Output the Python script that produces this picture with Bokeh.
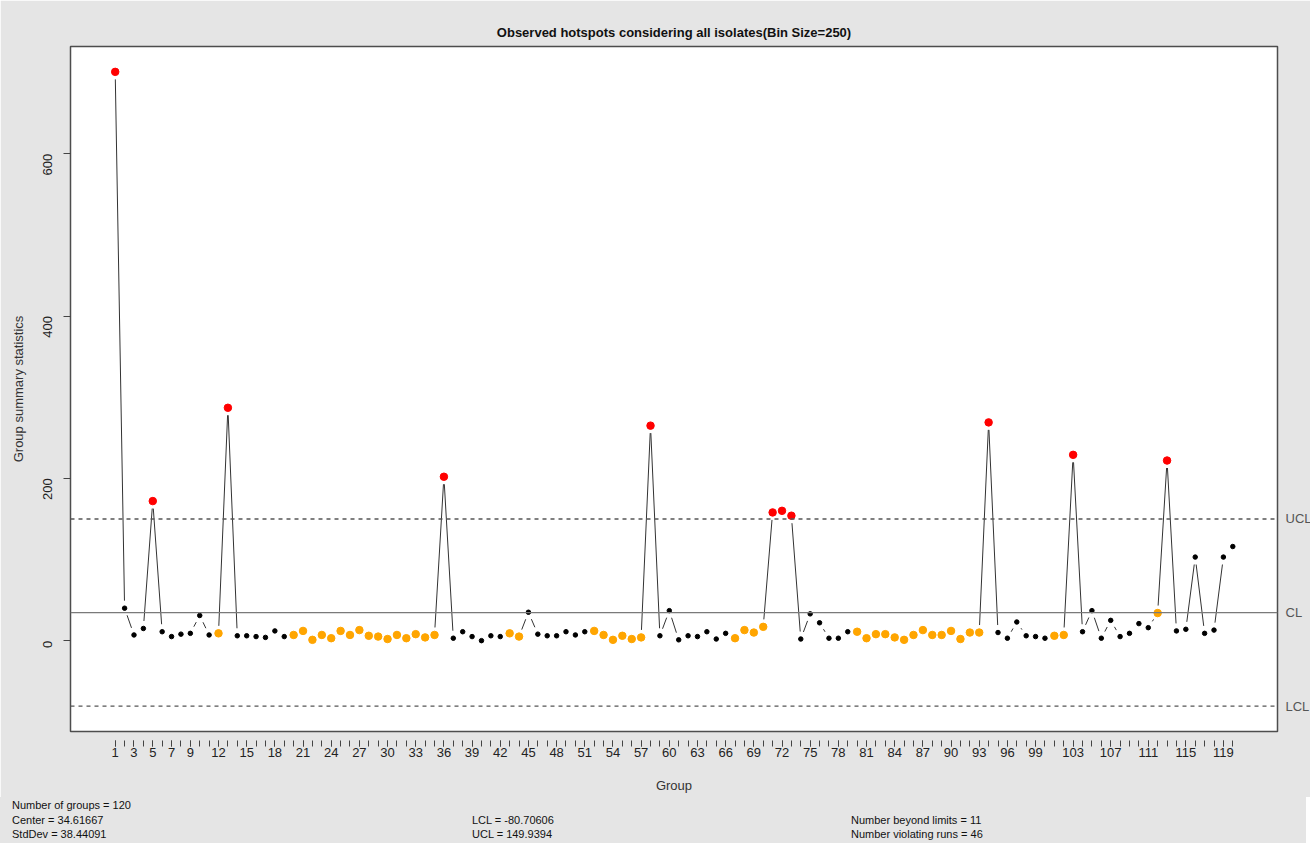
import math
from bokeh.plotting import figure
from bokeh.layouts import column
from bokeh.models import Range1d, FixedTicker, LinearAxis, Span, ColumnDataSource, Div
from bokeh.embed import file_html
from bokeh.resources import INLINE

# ---------------- data ----------------
groups = list(range(1, 121))
values = [701, 40, 7, 15, 172, 11, 5, 8, 9, 31,
          7, 9, 287, 6, 6, 5, 4, 12, 5, 7,
          12, 1, 7, 3, 12, 7, 13, 6, 5, 2,
          7, 3, 8, 4, 7, 202, 3, 11, 5, 0,
          6, 5, 9, 5, 35, 8, 6, 6, 11, 7,
          11, 12, 7, 1, 6, 2, 4, 265, 6, 37,
          1, 6, 5, 11, 2, 9, 3, 13, 10, 17,
          158, 160, 154, 2, 33, 22, 3, 3, 11, 11,
          3, 8, 8, 4, 1, 7, 13, 7, 7, 12,
          2, 10, 10, 269, 10, 3, 23, 6, 5, 3,
          6, 7, 229, 11, 37, 3, 25, 5, 9, 21,
          16, 34, 222, 12, 14, 103, 9, 13, 103, 116]
center = 34.61667
stddev = 38.44091
lcl = -80.70606
ucl = 149.9394
n_beyond = 11
n_runs = 46
run_length = 7
x_label_ticks = [1, 3, 5, 7, 9, 12, 15, 18, 21, 24, 27, 30, 33, 36, 39, 42, 45, 48,
                 51, 54, 57, 60, 63, 66, 69, 72, 75, 78, 81, 84, 87, 90, 93, 96, 99,
                 103, 107, 111, 115, 119]
y_ticks = [0, 200, 400, 600]
title_text = "Observed hotspots considering all isolates(Bin Size=250)"

# ---------------- layout constants ----------------
TOTAL_W = 1306
FW, FH = 1207, 685
BL, BR, BT, BB = 70, TOTAL_W - 70 - 1207, 46, 66
DIV_H = 46
FONT = "Liberation Sans"
BG = "#e5e5e5"

n = len(values)
xr0 = 1 - 0.04 * (n - 1)
xr1 = n + 0.04 * (n - 1)
lo = min(lcl, min(values))
hi = max(ucl, max(values))
pad = 0.04 * (hi - lo)
yr0, yr1 = lo - pad, hi + pad

# point status (qcc-like rules)
status = []
side_prev, count = 0, 0
for v in values:
    side = 1 if v > center else (-1 if v < center else 0)
    if side == side_prev and side != 0:
        count += 1
    else:
        count = 1
    side_prev = side
    if v > ucl or v < lcl:
        status.append("beyond")
    elif count >= run_length:
        status.append("run")
    else:
        status.append("ok")
col_map = {"beyond": "#ff0000", "run": "#ffa500", "ok": "#000000"}
size_map = {"beyond": 7.5, "run": 7.5, "ok": 4.5}

p = figure(frame_width=FW, frame_height=FH,
           min_border_left=BL, min_border_right=BR, min_border_top=BT, min_border_bottom=BB,
           x_range=Range1d(xr0, xr1), y_range=Range1d(yr0, yr1),
           output_backend="svg", toolbar_location=None,
           background_fill_color="white", border_fill_color=BG,
           outline_line_color="#4d4d4d", outline_line_width=1.5)
p.grid.visible = False

p.title.text = title_text
p.title.align = "center"
p.title.text_font = FONT
p.title.text_font_style = "bold"
p.title.text_font_size = "13px"
p.title.text_color = "#111111"
p.title.standoff = 14

# control lines
p.add_layout(Span(location=center, dimension="width", line_color="#7a7a7a", line_width=1.3))
for lim in (ucl, lcl):
    p.add_layout(Span(location=lim, dimension="width", line_color="#555555",
                      line_width=1.3, line_dash="4 4"))

# connecting line drawn like R type="b" (gaps around points)
sx = FW / (xr1 - xr0)
sy = FH / (yr1 - yr0)
G = 7.5
x0s, y0s, x1s, y1s = [], [], [], []
for i in range(n - 1):
    xa, ya, xb, yb = groups[i], values[i], groups[i + 1], values[i + 1]
    L = math.hypot((xb - xa) * sx, (yb - ya) * sy)
    if L > 2 * G:
        f = G / L
        x0s.append(xa + (xb - xa) * f)
        y0s.append(ya + (yb - ya) * f)
        x1s.append(xb - (xb - xa) * f)
        y1s.append(yb - (yb - ya) * f)
p.segment(x0s, y0s, x1s, y1s, line_color="#333333", line_width=1)

src = ColumnDataSource(dict(x=groups, y=values,
                            c=[col_map[s] for s in status],
                            s=[size_map[s] for s in status]))
p.scatter("x", "y", size="s", fill_color="c", line_color="c", source=src)

# axes
xa_ = p.xaxis[0]
xa_.ticker = FixedTicker(ticks=x_label_ticks, minor_ticks=groups)
xa_.axis_line_color = None
xa_.major_tick_in = -9
xa_.major_tick_out = 15
xa_.minor_tick_in = -9
xa_.minor_tick_out = 15
xa_.major_tick_line_color = "#444444"
xa_.minor_tick_line_color = "#444444"
xa_.major_label_standoff = 1
xa_.major_label_text_font = FONT
xa_.major_label_text_font_size = "13px"
xa_.major_label_text_color = "#222222"
xa_.axis_label = "Group"
xa_.axis_label_text_font = FONT
xa_.axis_label_text_font_style = "normal"
xa_.axis_label_text_font_size = "13px"
xa_.axis_label_text_color = "#333333"
xa_.axis_label_standoff = 18

ya_ = p.yaxis[0]
ya_.ticker = FixedTicker(ticks=y_ticks)
ya_.axis_line_color = None
ya_.major_tick_in = 0
ya_.major_tick_out = 7
ya_.minor_tick_line_color = None
ya_.major_tick_line_color = "#444444"
ya_.major_label_orientation = math.pi / 2
ya_.major_label_standoff = 16
ya_.major_label_text_font = FONT
ya_.major_label_text_font_size = "13px"
ya_.major_label_text_color = "#222222"
ya_.axis_label = "Group summary statistics"
ya_.axis_label_text_font = FONT
ya_.axis_label_text_font_style = "normal"
ya_.axis_label_text_font_size = "13px"
ya_.axis_label_text_color = "#333333"
ya_.axis_label_standoff = 10

ra = LinearAxis(ticker=FixedTicker(ticks=[lcl, center, ucl]),
                major_label_overrides={lcl: "LCL", center: "CL", ucl: "UCL"},
                axis_line_color=None, major_tick_line_color=None, minor_tick_line_color=None,
                major_label_standoff=2, major_label_text_font=FONT,
                major_label_text_font_size="13px", major_label_text_color="#555555")
p.add_layout(ra, "right")

# bottom statistics text (HTML panel under the figure)
stats = [
    (12, 2, f"Number of groups = {n}"),
    (12, 17, f"Center = {center}"),
    (12, 31, f"StdDev = {stddev}"),
    (472, 17, f"LCL = {lcl}"),
    (472, 31, f"UCL = {ucl}"),
    (851, 17, f"Number beyond limits = {n_beyond}"),
    (851, 31, f"Number violating runs = {n_runs}"),
]
spans = "".join(
    f'<span style="position:absolute;left:{x}px;top:{y}px;white-space:nowrap;">{t}</span>'
    for x, y, t in stats)
html = (f'<div style="position:relative;width:{TOTAL_W}px;height:{DIV_H}px;'
        f'background:{BG};font-family:\'{FONT}\';font-size:11px;line-height:13px;'
        f'color:#111111;overflow:hidden;">{spans}</div>')
div = Div(text=html, width=TOTAL_W, height=DIV_H, margin=0,
          styles={"background-color": BG})

layout = column(p, div, spacing=0)
open("out.html", "w").write(file_html(layout, INLINE))
